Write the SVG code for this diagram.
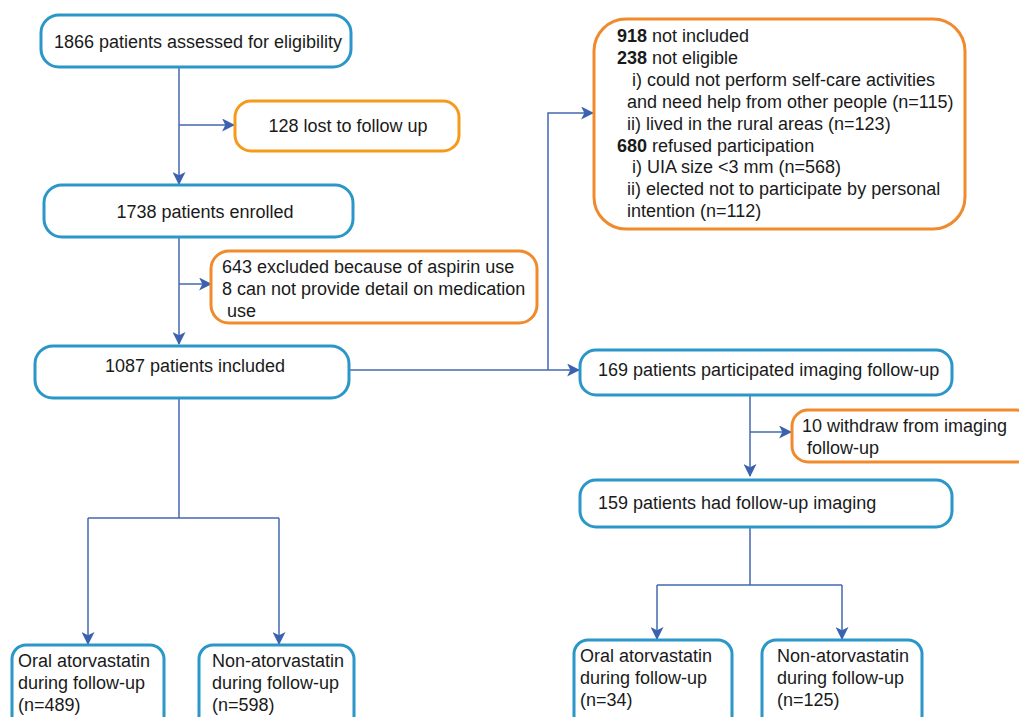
<svg xmlns="http://www.w3.org/2000/svg" width="1019" height="717" viewBox="0 0 1019 717">
<style>
.b{fill:#fff;stroke:#2b96c8;stroke-width:3}
.o{fill:#fff;stroke:#f08a2c;stroke-width:3}
.o2{fill:#fff;stroke:#f69a1a;stroke-width:3}
text{font-family:"Liberation Sans",Arial,sans-serif;font-size:18px;fill:#1a1a1a}
.c{text-anchor:middle}
.e{fill:none;stroke:#4468b2;stroke-width:1.5}
</style>
<defs>
<marker id="a" viewBox="0 0 12 12" refX="11" refY="6" markerWidth="13" markerHeight="13" markerUnits="userSpaceOnUse" orient="auto">
<path d="M0,0 L12,6 L0,12 L3,6 Z" fill="#3b62ae"/>
</marker>
</defs>
<rect width="1019" height="717" fill="#fff"/>
<g id="connectors">
<path class="e" d="M179,67 V184" marker-end="url(#a)"/>
<path class="e" d="M179,125 H234" marker-end="url(#a)"/>
<path class="e" d="M179,238 V344" marker-end="url(#a)"/>
<path class="e" d="M179,284 H211" marker-end="url(#a)"/>
<path class="e" d="M349,370 H579" marker-end="url(#a)"/>
<path class="e" d="M548,370 V113 H593" marker-end="url(#a)"/>
<path class="e" d="M179,398 V518 M88,518 H279"/>
<path class="e" d="M88,518 V644" marker-end="url(#a)"/>
<path class="e" d="M279,518 V644" marker-end="url(#a)"/>
<path class="e" d="M750,395 V476" marker-end="url(#a)"/>
<path class="e" d="M750,432 H791" marker-end="url(#a)"/>
<path class="e" d="M750,527 V585 M657,585 H842"/>
<path class="e" d="M657,585 V639" marker-end="url(#a)"/>
<path class="e" d="M842,585 V639" marker-end="url(#a)"/>
</g>
<g id="n1866"><rect class="b" x="41" y="15" width="310" height="52" rx="18"/><text class="c" x="198" y="48">1866 patients assessed for eligibility</text></g>
<g id="n128"><rect class="o2" x="235" y="101" width="224" height="50" rx="16"/><text class="c" x="348" y="132">128 lost to follow up</text></g>
<g id="n1738"><rect class="b" x="44" y="185" width="309" height="52" rx="18"/><text class="c" x="205" y="218">1738 patients enrolled</text></g>
<g id="n643"><rect class="o" x="211" y="251" width="326" height="72" rx="18"/>
<text x="222" y="273">643 excluded because of aspirin use</text>
<text x="222" y="295">8 can not provide detail on medication</text>
<text x="227" y="317">use</text></g>
<g id="n1087"><rect class="b" x="35" y="346" width="314" height="52" rx="18"/><text class="c" x="195" y="372">1087 patients included</text></g>
<g id="n918"><rect class="o" x="594" y="19" width="371" height="210" rx="32"/>
<text x="617" y="42"><tspan font-weight="bold">918</tspan> not included</text>
<text x="617" y="64"><tspan font-weight="bold">238</tspan> not eligible</text>
<text x="632" y="86">i) could not perform self-care activities</text>
<text x="627" y="108">and need help from other people (n=115)</text>
<text x="627" y="130">ii) lived in the rural areas (n=123)</text>
<text x="617" y="152"><tspan font-weight="bold">680</tspan> refused participation</text>
<text x="632" y="173">i) UIA size &lt;3 mm (n=568)</text>
<text x="627" y="195">ii) elected not to participate by personal</text>
<text x="627" y="217">intention (n=112)</text></g>
<g id="n169"><rect class="b" x="580" y="350" width="372" height="45" rx="16"/><text x="598" y="376">169 patients participated imaging follow-up</text></g>
<g id="n10"><rect class="o" x="792" y="410" width="240" height="52" rx="16"/>
<text x="802" y="432">10 withdraw from imaging</text>
<text x="807" y="454">follow-up</text></g>
<g id="n159"><rect class="b" x="580" y="480" width="372" height="47" rx="16"/><text x="598" y="509">159 patients had follow-up imaging</text></g>
<g id="nL1"><rect class="b" x="12" y="645" width="152" height="90" rx="14"/>
<text x="18" y="667">Oral atorvastatin</text><text x="18" y="689">during follow-up</text><text x="18" y="711">(n=489)</text></g>
<g id="nL2"><rect class="b" x="199" y="645" width="155" height="90" rx="14"/>
<text x="212" y="667">Non-atorvastatin</text><text x="212" y="689">during follow-up</text><text x="212" y="711">(n=598)</text></g>
<g id="nR1"><rect class="b" x="574" y="640" width="158" height="90" rx="14"/>
<text x="580" y="662">Oral atorvastatin</text><text x="580" y="684">during follow-up</text><text x="580" y="706">(n=34)</text></g>
<g id="nR2"><rect class="b" x="762" y="640" width="160" height="90" rx="14"/>
<text x="777" y="662">Non-atorvastatin</text><text x="777" y="684">during follow-up</text><text x="777" y="706">(n=125)</text></g>
</svg>
